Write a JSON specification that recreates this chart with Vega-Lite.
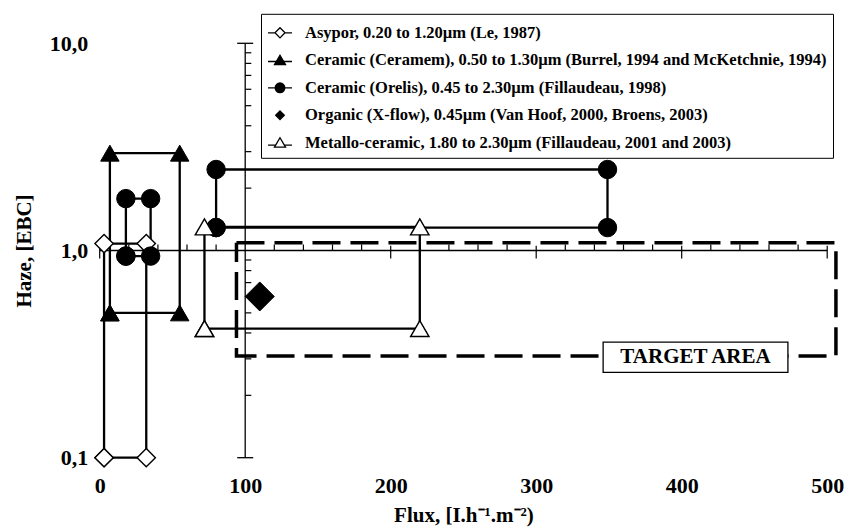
{
  "$schema": "https://vega.github.io/schema/vega-lite/v6.json",
  "width": 727.5,
  "height": 414.4,
  "autosize": "none",
  "padding": {"left": 99.7, "top": 43.3, "right": 18.8, "bottom": 73.3},
  "background": "white",
  "config": {
    "view": {"stroke": null},
    "font": "Liberation Serif",
    "legend": {
      "orient": "none",
      "legendX": 161.3,
      "legendY": -29.5,
      "strokeColor": "black",
      "fillColor": "white",
      "padding": 6,
      "labelFont": "Liberation Serif",
      "labelFontWeight": "bold",
      "labelFontSize": 16.5,
      "labelColor": "black",
      "labelLimit": 0,
      "labelOffset": 12,
      "rowPadding": 5.5,
      "symbolSize": 576,
      "symbolStrokeWidth": 1.3,
      "symbolStrokeColor": "black"
    }
  },
  "datasets": {
    "pts": [
      {"series": "Asypor, 0.20 to 1.20µm (Le, 1987)", "box": "A", "i": 0, "flux": 3, "haze": 0.1},
      {"series": "Asypor, 0.20 to 1.20µm (Le, 1987)", "box": "A", "i": 1, "flux": 3, "haze": 1.08},
      {"series": "Asypor, 0.20 to 1.20µm (Le, 1987)", "box": "A", "i": 2, "flux": 32, "haze": 1.08},
      {"series": "Asypor, 0.20 to 1.20µm (Le, 1987)", "box": "A", "i": 3, "flux": 32, "haze": 0.1},
      {"series": "Asypor, 0.20 to 1.20µm (Le, 1987)", "box": "A", "i": 4, "flux": 3, "haze": 0.1},
      {"series": "Ceramic (Ceramem), 0.50 to 1.30µm (Burrel, 1994 and McKetchnie, 1994)", "box": "B", "i": 0, "flux": 7, "haze": 0.5},
      {"series": "Ceramic (Ceramem), 0.50 to 1.30µm (Burrel, 1994 and McKetchnie, 1994)", "box": "B", "i": 1, "flux": 7, "haze": 2.95},
      {"series": "Ceramic (Ceramem), 0.50 to 1.30µm (Burrel, 1994 and McKetchnie, 1994)", "box": "B", "i": 2, "flux": 55, "haze": 2.95},
      {"series": "Ceramic (Ceramem), 0.50 to 1.30µm (Burrel, 1994 and McKetchnie, 1994)", "box": "B", "i": 3, "flux": 55, "haze": 0.5},
      {"series": "Ceramic (Ceramem), 0.50 to 1.30µm (Burrel, 1994 and McKetchnie, 1994)", "box": "B", "i": 4, "flux": 7, "haze": 0.5},
      {"series": "Ceramic (Orelis), 0.45 to 2.30µm (Fillaudeau, 1998)", "box": "C1", "i": 0, "flux": 18, "haze": 0.94},
      {"series": "Ceramic (Orelis), 0.45 to 2.30µm (Fillaudeau, 1998)", "box": "C1", "i": 1, "flux": 18, "haze": 1.78},
      {"series": "Ceramic (Orelis), 0.45 to 2.30µm (Fillaudeau, 1998)", "box": "C1", "i": 2, "flux": 35, "haze": 1.78},
      {"series": "Ceramic (Orelis), 0.45 to 2.30µm (Fillaudeau, 1998)", "box": "C1", "i": 3, "flux": 35, "haze": 0.94},
      {"series": "Ceramic (Orelis), 0.45 to 2.30µm (Fillaudeau, 1998)", "box": "C1", "i": 4, "flux": 18, "haze": 0.94},
      {"series": "Ceramic (Orelis), 0.45 to 2.30µm (Fillaudeau, 1998)", "box": "C2", "i": 0, "flux": 80, "haze": 1.29},
      {"series": "Ceramic (Orelis), 0.45 to 2.30µm (Fillaudeau, 1998)", "box": "C2", "i": 1, "flux": 80, "haze": 2.46},
      {"series": "Ceramic (Orelis), 0.45 to 2.30µm (Fillaudeau, 1998)", "box": "C2", "i": 2, "flux": 349, "haze": 2.46},
      {"series": "Ceramic (Orelis), 0.45 to 2.30µm (Fillaudeau, 1998)", "box": "C2", "i": 3, "flux": 349, "haze": 1.29},
      {"series": "Ceramic (Orelis), 0.45 to 2.30µm (Fillaudeau, 1998)", "box": "C2", "i": 4, "flux": 80, "haze": 1.29},
      {"series": "Organic (X-flow), 0.45µm (Van Hoof, 2000, Broens, 2003)", "box": "D", "i": 0, "flux": 110, "haze": 0.6},
      {"series": "Metallo-ceramic, 1.80 to 2.30µm (Fillaudeau, 2001 and 2003)", "box": "E", "i": 0, "flux": 72, "haze": 0.42},
      {"series": "Metallo-ceramic, 1.80 to 2.30µm (Fillaudeau, 2001 and 2003)", "box": "E", "i": 1, "flux": 72, "haze": 1.3},
      {"series": "Metallo-ceramic, 1.80 to 2.30µm (Fillaudeau, 2001 and 2003)", "box": "E", "i": 2, "flux": 220, "haze": 1.3},
      {"series": "Metallo-ceramic, 1.80 to 2.30µm (Fillaudeau, 2001 and 2003)", "box": "E", "i": 3, "flux": 220, "haze": 0.42},
      {"series": "Metallo-ceramic, 1.80 to 2.30µm (Fillaudeau, 2001 and 2003)", "box": "E", "i": 4, "flux": 72, "haze": 0.42}
    ],
    "target": [
      {"i": 0, "flux": 94, "haze": 1.09},
      {"i": 1, "flux": 506, "haze": 1.09},
      {"i": 2, "flux": 506, "haze": 0.31},
      {"i": 3, "flux": 94, "haze": 0.31},
      {"i": 4, "flux": 94, "haze": 1.09}
    ],
    "legendrows": []
  },
  "layer": [
    {
      "data": {"name": "target"},
      "mark": {"type": "line", "color": "black", "strokeWidth": 3.5, "strokeDash": [28, 10], "clip": false},
      "encoding": {
        "x": {
          "field": "flux", "type": "quantitative",
          "scale": {"type": "linear", "domain": [0, 500], "nice": false, "zero": false},
          "axis": {
            "title": "Flux, [I.h⁻¹.m⁻²)",
            "values": [0, 100, 200, 300, 400, 500],
            "grid": false, "domain": false, "ticks": false, "tickSize": 0,
            "labelPadding": 18, "labelFont": "Liberation Serif", "labelFontWeight": "bold",
            "labelFontSize": 22, "labelColor": "black", "labelFlush": false,
            "titleFont": "Liberation Serif", "titleFontWeight": "bold", "titleFontSize": 21,
            "titleColor": "black", "titlePadding": 8
          }
        },
        "y": {
          "field": "haze", "type": "quantitative",
          "scale": {"type": "log", "domain": [0.1, 10], "nice": false},
          "axis": {
            "title": "Haze, [EBC]",
            "values": [0.1, 1, 10],
            "labelExpr": "replace(format(datum.value, '.1f'), '.', ',')",
            "grid": false, "domain": false, "ticks": false, "tickSize": 0,
            "labelPadding": 12, "labelFont": "Liberation Serif", "labelFontWeight": "bold",
            "labelFontSize": 22, "labelColor": "black", "labelFlush": false,
            "titleFont": "Liberation Serif", "titleFontWeight": "bold", "titleFontSize": 21,
            "titleColor": "black", "titlePadding": 15
          }
        },
        "order": {"field": "i", "type": "quantitative"}
      }
    },
    {
      "data": {"values": [{}]},
      "mark": {"type": "rule", "color": "black", "strokeWidth": 1.3},
      "encoding": {"x": {"datum": 100}, "y": {"datum": 0.1}, "y2": {"datum": 10}}
    },
    {
      "data": {"values": [{}]},
      "mark": {"type": "rule", "color": "black", "strokeWidth": 1.3},
      "encoding": {"y": {"datum": 1}, "x": {"datum": 0}, "x2": {"datum": 500}}
    },
    {
      "data": {"values": [{"flux": 20}, {"flux": 40}, {"flux": 60}, {"flux": 80}, {"flux": 120}, {"flux": 140}, {"flux": 160}, {"flux": 180}, {"flux": 220}, {"flux": 240}, {"flux": 260}, {"flux": 280}, {"flux": 320}, {"flux": 340}, {"flux": 360}, {"flux": 380}, {"flux": 420}, {"flux": 440}, {"flux": 460}, {"flux": 480}]},
      "mark": {"type": "rule", "color": "black", "strokeWidth": 1.2},
      "encoding": {"x": {"field": "flux", "type": "quantitative"}, "y": {"datum": 1}, "y2": {"datum": 1.07}}
    },
    {
      "data": {"values": [{"flux": 0}, {"flux": 200}, {"flux": 300}, {"flux": 400}, {"flux": 500}]},
      "mark": {"type": "rule", "color": "black", "strokeWidth": 1.2},
      "encoding": {"x": {"field": "flux", "type": "quantitative"}, "y": {"datum": 1.055}, "y2": {"datum": 0.915}}
    },
    {
      "data": {"values": [{"haze": 0.2}, {"haze": 0.3}, {"haze": 0.4}, {"haze": 0.5}, {"haze": 0.6}, {"haze": 0.7}, {"haze": 0.8}, {"haze": 0.9}, {"haze": 2}, {"haze": 3}, {"haze": 4}, {"haze": 5}, {"haze": 6}, {"haze": 7}, {"haze": 8}, {"haze": 9}]},
      "mark": {"type": "rule", "color": "black", "strokeWidth": 1.2},
      "encoding": {"y": {"field": "haze", "type": "quantitative"}, "x": {"datum": 100}, "x2": {"datum": 104.2}}
    },
    {
      "data": {"values": [{"haze": 0.1}, {"haze": 10}]},
      "mark": {"type": "rule", "color": "black", "strokeWidth": 1.3},
      "encoding": {"y": {"field": "haze", "type": "quantitative"}, "x": {"datum": 94.5}, "x2": {"datum": 105.5}}
    },
    {
      "data": {"name": "pts"},
      "mark": {"type": "line", "color": "black", "strokeWidth": 2.3},
      "encoding": {
        "x": {"field": "flux", "type": "quantitative"},
        "y": {"field": "haze", "type": "quantitative"},
        "detail": {"field": "box"},
        "order": {"field": "i", "type": "quantitative"}
      }
    },
    {
      "data": {"name": "pts"},
      "transform": [{"filter": {"field": "box", "equal": "A"}}],
      "mark": {"type": "point", "shape": "diamond", "filled": true, "fill": "white", "stroke": "black", "strokeWidth": 1.4, "size": 335, "opacity": 1},
      "encoding": {"x": {"field": "flux", "type": "quantitative"}, "y": {"field": "haze", "type": "quantitative"}}
    },
    {
      "data": {"name": "pts"},
      "transform": [{"filter": {"field": "box", "equal": "B"}}],
      "mark": {"type": "point", "shape": "triangle-up", "filled": true, "fill": "black", "stroke": "black", "strokeWidth": 1, "size": 340, "opacity": 1},
      "encoding": {"x": {"field": "flux", "type": "quantitative"}, "y": {"field": "haze", "type": "quantitative"}}
    },
    {
      "data": {"name": "pts"},
      "transform": [{"filter": {"field": "box", "oneOf": ["C1", "C2"]}}],
      "mark": {"type": "point", "shape": "circle", "filled": true, "fill": "black", "stroke": "black", "strokeWidth": 1, "size": 340, "opacity": 1},
      "encoding": {"x": {"field": "flux", "type": "quantitative"}, "y": {"field": "haze", "type": "quantitative"}}
    },
    {
      "data": {"name": "pts"},
      "transform": [{"filter": {"field": "box", "equal": "D"}}],
      "mark": {"type": "point", "shape": "diamond", "filled": true, "fill": "black", "stroke": "black", "strokeWidth": 1, "size": 841, "opacity": 1},
      "encoding": {"x": {"field": "flux", "type": "quantitative"}, "y": {"field": "haze", "type": "quantitative"}}
    },
    {
      "data": {"name": "pts"},
      "transform": [{"filter": {"field": "box", "equal": "E"}}],
      "mark": {"type": "point", "shape": "triangle-up", "filled": true, "fill": "white", "stroke": "black", "strokeWidth": 1.4, "size": 340, "opacity": 1},
      "encoding": {"x": {"field": "flux", "type": "quantitative"}, "y": {"field": "haze", "type": "quantitative"}}
    },
    {
      "data": {"values": [{}]},
      "mark": {"type": "rect", "fill": "white", "stroke": "black", "strokeWidth": 1.3},
      "encoding": {"x": {"datum": 346}, "x2": {"datum": 473}, "y": {"datum": 0.258}, "y2": {"datum": 0.361}}
    },
    {
      "data": {"values": [{"label": "TARGET AREA"}]},
      "mark": {"type": "text", "font": "Liberation Serif", "fontWeight": "bold", "fontSize": 21, "color": "black", "align": "center", "baseline": "middle"},
      "encoding": {"text": {"field": "label"}, "x": {"datum": 409.5}, "y": {"datum": 0.305}}
    },
    {
      "data": {"name": "legendrows"},
      "mark": {"type": "point", "filled": true, "strokeWidth": 1.3, "opacity": 1},
      "encoding": {
        "x": {"field": "flux", "type": "quantitative"},
        "y": {"field": "haze", "type": "quantitative"},
        "shape": {
          "field": "series", "type": "nominal",
          "scale": {
            "domain": ["Asypor, 0.20 to 1.20µm (Le, 1987)", "Ceramic (Ceramem), 0.50 to 1.30µm (Burrel, 1994 and McKetchnie, 1994)", "Ceramic (Orelis), 0.45 to 2.30µm (Fillaudeau, 1998)", "Organic (X-flow), 0.45µm (Van Hoof, 2000, Broens, 2003)", "Metallo-ceramic, 1.80 to 2.30µm (Fillaudeau, 2001 and 2003)"],
            "range": [
              "M-1,0L-0.42,0M0.42,0L1,0M0,-0.42L0.42,0L0,0.42L-0.42,0Z",
              "M-1,0.1L1,0.1M0,-0.42L0.46,0.36L-0.46,0.36Z",
              "M-1,0L1,0M-0.4,0A0.4,0.4,0,1,0,0.4,0A0.4,0.4,0,1,0,-0.4,0Z",
              "M0,-0.36L0.36,0L0,0.36L-0.36,0Z",
              "M-1,0.2L-0.36,0.2M0.36,0.2L1,0.2M0,-0.42L0.46,0.36L-0.46,0.36Z"
            ]
          },
          "legend": {"title": null}
        },
        "fill": {
          "field": "series", "type": "nominal",
          "scale": {
            "domain": ["Asypor, 0.20 to 1.20µm (Le, 1987)", "Ceramic (Ceramem), 0.50 to 1.30µm (Burrel, 1994 and McKetchnie, 1994)", "Ceramic (Orelis), 0.45 to 2.30µm (Fillaudeau, 1998)", "Organic (X-flow), 0.45µm (Van Hoof, 2000, Broens, 2003)", "Metallo-ceramic, 1.80 to 2.30µm (Fillaudeau, 2001 and 2003)"],
            "range": ["white", "black", "black", "black", "white"]
          },
          "legend": {"title": null}
        },
        "stroke": {
          "field": "series", "type": "nominal",
          "scale": {
            "domain": ["Asypor, 0.20 to 1.20µm (Le, 1987)", "Ceramic (Ceramem), 0.50 to 1.30µm (Burrel, 1994 and McKetchnie, 1994)", "Ceramic (Orelis), 0.45 to 2.30µm (Fillaudeau, 1998)", "Organic (X-flow), 0.45µm (Van Hoof, 2000, Broens, 2003)", "Metallo-ceramic, 1.80 to 2.30µm (Fillaudeau, 2001 and 2003)"],
            "range": ["black", "black", "black", "black", "black"]
          },
          "legend": {"title": null}
        }
      }
    }
  ]
}
